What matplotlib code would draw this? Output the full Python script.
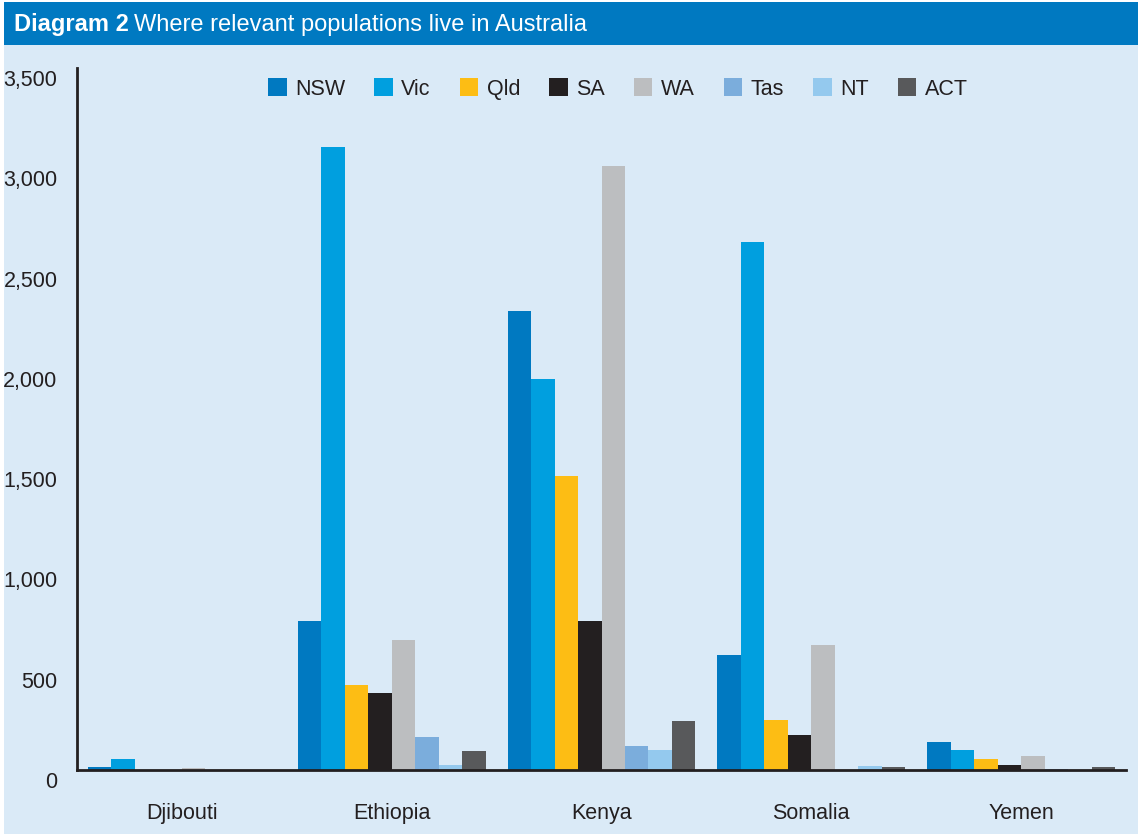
import matplotlib.pyplot as plt
import matplotlib.transforms as mtransforms
from matplotlib.patches import Rectangle
import numpy as np

plt.rcParams['font.family'] = ['Liberation Sans', 'DejaVu Sans']

countries = ['Djibouti', 'Ethiopia', 'Kenya', 'Somalia', 'Yemen']
states = ['NSW', 'Vic', 'Qld', 'SA', 'WA', 'Tas', 'NT', 'ACT']

nsw = [15, 745, 2290, 575, 140]
vic = [55, 3105, 1950, 2630, 100]
qld = [0, 425, 1465, 250, 55]
sa = [0, 385, 745, 175, 25]
wa = [10, 650, 3010, 625, 70]
tas = [0, 165, 120, 0, 5]
nt = [0, 25, 100, 20, 0]
act = [0, 95, 245, 15, 15]
series = [nsw, vic, qld, sa, wa, tas, nt, act]

colors = ['#0079C1', '#009FDF', '#FDBD14', '#231F20', '#BCBEC0', '#7BADDC', '#94C9EE', '#58595B']

bg = '#DAEAF7'
fig = plt.figure(figsize=(11.38, 8.34), dpi=100)
fig.patch.set_facecolor('white')

# background panel and title bar
fig.patches.append(Rectangle((4 / 1138, 0), 1, 1 - 2 / 834, transform=fig.transFigure,
                             facecolor=bg, edgecolor='none', zorder=-2))
fig.patches.append(Rectangle((4 / 1138, 1 - 45 / 834), 1, 43 / 834, transform=fig.transFigure,
                             facecolor='#0079C1', edgecolor='none', zorder=-1))
t1 = fig.text(14 / 1138, 1 - 25 / 834, 'Diagram 2', color='white', fontsize=17,
              fontweight='bold', va='center', ha='left')
fig.canvas.draw()
bb = t1.get_window_extent()
fig.text(bb.x1 / 1138 + 5 / 1138, 1 - 25 / 834, 'Where relevant populations live in Australia',
         color='white', fontsize=17, va='center', ha='left')

ax = fig.add_axes([77 / 1138, 64 / 834, 1049 / 1138, 702 / 834])
ax.set_facecolor('none')

x = np.arange(len(countries))
w = 0.112
for i, (s, vals) in enumerate(zip(states, series)):
    ax.bar(x + (i - 3.5) * w, vals, width=w, color=colors[i], label=s, linewidth=0)

ax.set_xlim(-0.5, 4.5)
ax.set_ylim(0, 3500)
ax.set_yticks(range(0, 3501, 500))
ax.set_yticklabels([f'{v:,}' for v in range(0, 3501, 500)])
ax.set_xticks(x)
ax.set_xticklabels(countries)
ax.tick_params(axis='both', length=0, labelsize=15.5, colors='#231F20')
ax.tick_params(axis='y', pad=14)
ax.tick_params(axis='x', pad=24)
offset = mtransforms.ScaledTranslation(0, -10 / 100, fig.dpi_scale_trans)
for lab in ax.get_yticklabels():
    lab.set_transform(lab.get_transform() + offset)

for sp in ['top', 'right']:
    ax.spines[sp].set_visible(False)
for sp in ['left', 'bottom']:
    ax.spines[sp].set_color('#231F20')
    ax.spines[sp].set_linewidth(2)

ax.legend(loc='center', bbox_to_anchor=(618 / 1138, 1 - 89 / 834), bbox_transform=fig.transFigure,
          ncol=8, frameon=False, fontsize=15.5, handlelength=0.85, handleheight=0.85,
          handletextpad=0.4, columnspacing=1.35, labelcolor='#231F20')

plt.savefig('out.png', dpi=100)
